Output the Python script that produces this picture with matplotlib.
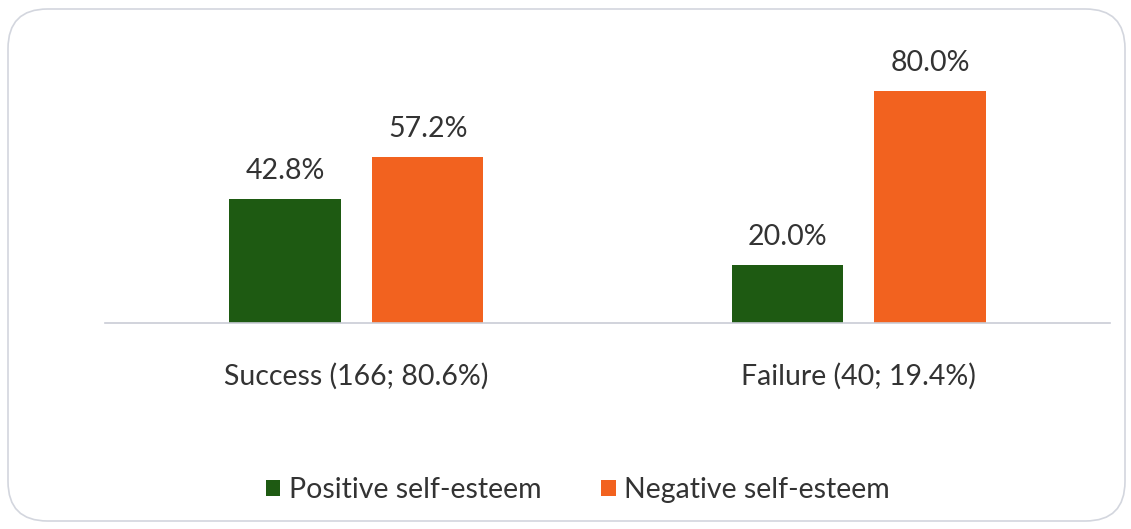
import numpy as np
import matplotlib
matplotlib.use("Agg")
import matplotlib.pyplot as plt
from matplotlib.patches import FancyBboxPatch

# data
categories = ["Success (166; 80.6%)", "Failure (40; 19.4%)"]
series_names = ["Positive self-esteem", "Negative self-esteem"]
positive = [42.8, 20.0]
negative = [57.2, 80.0]

green = "#1e5a12"
orange = "#f2621f"
txt = "#333333"
fs = 20.5

plt.rcParams['font.family'] = ['Lato', 'DejaVu Sans']

fig = plt.figure(figsize=(11.31, 5.29), dpi=100)
W, H = 1131, 529

# rounded chart-area border
fig.patches.append(FancyBboxPatch((8/W, 8/H), 1117/W, 512/H,
                                  boxstyle="round,pad=0,rounding_size=0.035",
                                  transform=fig.transFigure, fill=False,
                                  ec="#d3d6de", lw=1.2, mutation_aspect=W/H))

# axes: x from px 105 to 1110, baseline at px 323, 2.9 px per %
ax = fig.add_axes([105/W, (H-323)/H, 1005/W, 261/H])
ax.set_xlim(-0.5, 1.5)
ax.set_ylim(0, 90)

x = np.arange(len(categories))
bw = 0.222
off = 0.142
b1 = ax.bar(x - off, positive, bw, color=green, label=series_names[0])
b2 = ax.bar(x + off, negative, bw, color=orange, label=series_names[1])

for bars, vals in [(b1, positive), (b2, negative)]:
    for r, v in zip(bars, vals):
        ax.annotate(f"{v:.1f}%", (r.get_x() + r.get_width()/2, v),
                    xytext=(0, 20), textcoords="offset points",
                    ha="center", va="center", fontsize=fs, color=txt)

for s in ["top", "right", "left"]:
    ax.spines[s].set_visible(False)
ax.spines["bottom"].set_color("#c9ccd6")
ax.spines["bottom"].set_linewidth(1.2)
ax.set_yticks([])
ax.set_xticks(x)
ax.set_xticklabels(categories, fontsize=fs, color=txt)
ax.tick_params(axis="x", length=0, pad=29)

leg = ax.legend(loc="center", bbox_to_anchor=(578/W, (H-490)/H),
                bbox_transform=fig.transFigure, ncol=2, frameon=False,
                fontsize=fs, handlelength=0.5, handleheight=0.5,
                handletextpad=0.3, columnspacing=2.1)
for t in leg.get_texts():
    t.set_color(txt)

fig.savefig("out.png", dpi=100)
